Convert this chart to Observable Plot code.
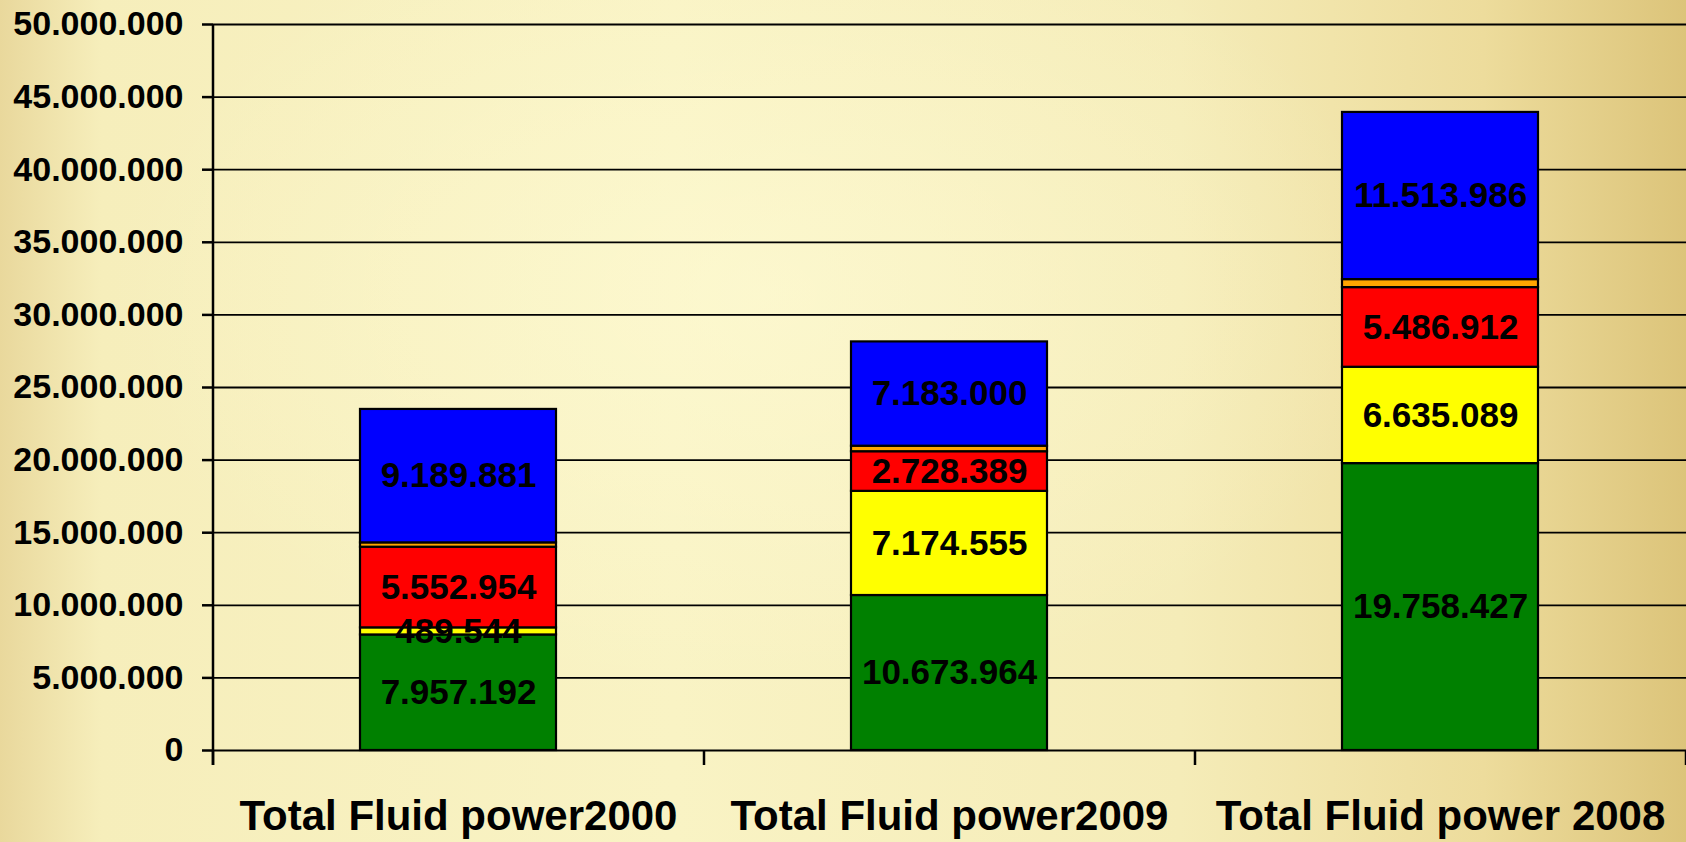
<!DOCTYPE html>
<html>
<head>
<meta charset="utf-8">
<script src="https://cdn.jsdelivr.net/npm/d3@7"></script>
<script src="https://cdn.jsdelivr.net/npm/@observablehq/plot@0.6"></script>
<style>
  html, body { margin: 0; padding: 0; width: 1686px; height: 842px; overflow: hidden; }
  body {
    background:
      radial-gradient(ellipse 55% 70% at 45% 35%, rgba(255,252,215,0.55), rgba(255,252,215,0) 70%),
      linear-gradient(to right, #e9d89c 0%, #f6eebb 6%, #f9f3c4 40%, #f5ecb8 70%, #eddc9c 88%, #dcc47a 100%);
    font-family: "Liberation Sans", Arial, sans-serif;
  }
  #chart svg { display: block; }
</style>
</head>
<body>
<div id="chart"></div>
<script>
// ---- data ----
const categories = ["Total Fluid power2000", "Total Fluid power2009", "Total Fluid power 2008"];
const seriesNames = ["green", "yellow", "red", "orange", "blue"];
const seriesColors = ["#008000", "#ffff00", "#ff0000", "#ffc000", "#0000ff"];
const greenValues  = [7957192, 10673964, 19758427];
const yellowValues = [489544, 7174555, 6635089];
const redValues    = [5552954, 2728389, 5486912];
const orangeValues = [300000, 380000, 550000];   // unlabelled thin segment (estimated)
const blueValues   = [9189881, 7183000, 11513986];
const yTicks = [0, 5000000, 10000000, 15000000, 20000000, 25000000, 30000000, 35000000, 40000000, 45000000, 50000000];
const labelledSeries = ["green", "yellow", "red", "blue"];

const seriesValues = [greenValues, yellowValues, redValues, orangeValues, blueValues];
const table = [];
categories.forEach((c, i) => {
  seriesNames.forEach((s, j) => {
    table.push({category: c, series: s, value: seriesValues[j][i]});
  });
});

const locale = d3.formatLocale({decimal: ",", thousands: ".", grouping: [3], currency: ["", ""]});
const fmt = locale.format(",d");

const W = 1686, H = 842;
const font = "'Liberation Sans', Arial, sans-serif";

// boundary tick marks between categories, derived from the band scale
function boundaryTicks(index, scales, values, dims) {
  const x = scales.x, y = scales.y;
  const r = x.range();
  const step = x.step();
  const y0 = y(0);
  const g = d3.create("svg:g");
  for (let k = 0; k <= categories.length; k++) {
    const px = r[0] + k * step;
    g.append("line")
      .attr("x1", px).attr("x2", px)
      .attr("y1", y0).attr("y2", y0 + 15)
      .attr("stroke", "black").attr("stroke-width", 2.5);
  }
  // y-axis line extending below zero
  g.append("line")
    .attr("x1", r[0]).attr("x2", r[0])
    .attr("y1", y(50000000)).attr("y2", y0 + 15)
    .attr("stroke", "black").attr("stroke-width", 2.5);
  return g.node();
}

const plot = Plot.plot({
  width: W,
  height: H,
  marginLeft: 213,
  marginRight: 0,
  marginTop: 24,
  marginBottom: 92,
  style: {background: "transparent", fontFamily: font, overflow: "visible"},
  x: {domain: categories, paddingInner: 0.6, paddingOuter: 0.3, label: null},
  y: {domain: [0, 50000000], label: null},
  color: {domain: seriesNames, range: seriesColors},
  marks: [
    Plot.ruleY(yTicks, {stroke: "black", strokeWidth: 1.8}),
    Plot.barY(table, Plot.stackY({
      x: "category", y: "value", fill: "series",
      stroke: "black", strokeWidth: 2.2
    })),
    Plot.text(table, Plot.stackY({
      x: "category", y: "value",
      text: d => labelledSeries.includes(d.series) ? fmt(d.value) : "",
      fontSize: 35, fontWeight: "bold", fill: "black", fontFamily: font
    })),
    Plot.axisY({
      ticks: yTicks, tickFormat: fmt, tickSize: 11, tickPadding: 19,
      fontSize: 34, fontWeight: "bold", stroke: "black", strokeWidth: 2.5,
      fill: "black", label: null
    }),
    Plot.axisX({
      tickSize: 0, tickPadding: 50, fontSize: 42, fontWeight: "bold",
      fill: "black", label: null
    }),
    boundaryTicks
  ]
});

document.getElementById("chart").appendChild(plot);
</script>
</body>
</html>
